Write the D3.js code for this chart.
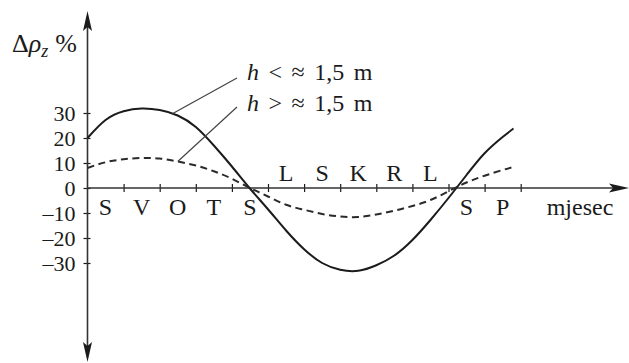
<!DOCTYPE html>
<html>
<head>
<meta charset="utf-8">
<script src="https://cdn.jsdelivr.net/npm/d3@7"></script>
<style>
  html, body { margin: 0; padding: 0; background: #fff; }
  svg { display: block; }
  svg text { font-family: "Liberation Serif", "DejaVu Serif", serif; }
</style>
</head>
<body>
<svg id="chart"></svg>
<script>
// months of the year (Croatian initials), starting at sijecanj
const months = ['S', 'V', 'O', 'T', 'S', 'L', 'S', 'K', 'R', 'L', 'S', 'P'];
// positions along the time axis, in months from the start of the year
const monthX = [0, 0.5, 1, 1.5, 2, 2.5, 3, 3.5, 4, 4.5, 5, 5.5, 6, 6.5, 7, 7.5, 8, 8.5, 9, 9.5, 10, 10.5, 11, 11.5, 11.8];
// change of soil resistivity, %, for shallow (h < ~1.5 m) and deep (h > ~1.5 m) electrodes
const shallow = [20, 27.2, 30.7, 31.8, 31.2, 29, 24.4, 17, 8.6, -0.2, -8.5, -17, -24.5, -30, -32.7, -33.1, -30.9, -27, -20.8, -12.8, -4, 5.2, 13.9, 20.4, 23.8];
const deep = [8, 10.3, 11.5, 12, 11.8, 10.6, 9, 6.7, 3.7, 0, -3.4, -6.7, -8.7, -10.4, -11.4, -11.6, -10.6, -9.1, -7.2, -4.8, -1.3, 2.2, 4.9, 7.2, 8.4];
const yTicks = [30, 20, 10, 0, -10, -20, -30];
const seriesLabels = ['h < ≈ 1,5 m', 'h > ≈ 1,5 m'];

const width = 629, height = 363;
const ink = '#1b1b1b';
const serif = '"Liberation Serif", "DejaVu Serif", serif';

const svg = d3.select('#chart')
  .attr('width', width)
  .attr('height', height);

const x = d3.scaleLinear().domain([0, 15]).range([87.5, 87.5 + 15 * 36.1]);
const y = d3.scaleLinear().domain([-30, 30]).range([263, 113]);

// y axis ticks and labels
const yAxis = svg.append('g')
  .attr('transform', `translate(${x(0)},0)`)
  .call(d3.axisLeft(y).tickValues(yTicks).tickSize(4).tickPadding(8)
    .tickFormat(d => d < 0 ? '–' + Math.abs(d) : d));
yAxis.attr('font-family', serif);
yAxis.select('.domain').remove();
yAxis.selectAll('.tick line').attr('x1', 3).attr('stroke', ink).attr('stroke-width', 1.2);
yAxis.selectAll('.tick text')
  .attr('font-size', 22)
  .attr('fill', ink)
  .attr('dy', '0.33em');

// x axis month ticks
const xAxis = svg.append('g')
  .attr('transform', `translate(0,${y(0)})`)
  .call(d3.axisBottom(x).tickValues(d3.range(1, 13)).tickSize(4).tickFormat(''));
xAxis.select('.domain').remove();
xAxis.selectAll('.tick line').attr('y1', -4).attr('stroke', ink).attr('stroke-width', 1.2);

// axis lines with arrows
svg.append('line')
  .attr('x1', x(0)).attr('x2', 616)
  .attr('y1', y(0)).attr('y2', y(0))
  .attr('stroke', '#333').attr('stroke-width', 1.6);
svg.append('line')
  .attr('x1', x(0)).attr('x2', x(0))
  .attr('y1', 26).attr('y2', 348)
  .attr('stroke', '#333').attr('stroke-width', 1.6);

const arrow = (pts) => svg.append('polygon')
  .attr('points', pts.map(p => p.join(',')).join(' '))
  .attr('fill', ink);
arrow([[x(0), 11], [x(0) - 4.5, 31], [x(0), 27], [x(0) + 4.5, 31]]);
arrow([[x(0), 362], [x(0) - 4.5, 342], [x(0), 346], [x(0) + 4.5, 342]]);
arrow([[629, y(0)], [609, y(0) - 4.5], [613, y(0)], [609, y(0) + 4.5]]);

// month letters: summer months sit above the axis
svg.append('g').selectAll('text')
  .data(months)
  .enter()
  .append('text')
  .attr('x', (d, i) => x(i + 0.5))
  .attr('y', (d, i) => (i >= 5 && i <= 9) ? y(0) - 7 : y(0) + 27)
  .attr('text-anchor', 'middle')
  .attr('font-family', serif)
  .attr('font-size', 24)
  .attr('fill', ink)
  .text(d => d);

svg.append('text')
  .attr('x', 580).attr('y', y(0) + 27)
  .attr('text-anchor', 'middle')
  .attr('font-family', serif)
  .attr('font-size', 24)
  .attr('fill', ink)
  .text('mjesec');

// y axis title
const title = svg.append('text')
  .attr('x', 12).attr('y', 52)
  .attr('font-family', serif)
  .attr('font-size', 26)
  .attr('fill', ink);
title.append('tspan').text('Δ');
title.append('tspan').attr('font-style', 'italic').text('ρ');
title.append('tspan').attr('font-style', 'italic').attr('font-size', 18).attr('dy', 5).text('z');
title.append('tspan').attr('dy', -5).attr('dx', 7).text('%');

// curves
const line = (vals) => d3.line()
  .x((d, i) => x(monthX[i]))
  .y(d => y(d))
  .curve(d3.curveNatural)(vals);

svg.append('path')
  .attr('d', line(shallow))
  .attr('fill', 'none')
  .attr('stroke', ink)
  .attr('stroke-width', 2);

svg.append('path')
  .attr('d', line(deep))
  .attr('fill', 'none')
  .attr('stroke', '#2a2a2a')
  .attr('stroke-width', 2)
  .attr('stroke-dasharray', '7,4.5');

// leader lines and labels
const valueAt = (vals, m) => {
  const i = d3.bisectLeft(monthX, m);
  const t = (m - monthX[i - 1]) / (monthX[i] - monthX[i - 1]);
  return vals[i - 1] + t * (vals[i] - vals[i - 1]);
};

const leaders = [
  { vals: shallow, m: 2.35, tx: 237, ty: 78, ly: 80 },
  { vals: deep, m: 2.5, tx: 237, ty: 107, ly: 111 }
];

leaders.forEach((l, i) => {
  svg.append('line')
    .attr('x1', x(l.m)).attr('y1', y(valueAt(l.vals, l.m)))
    .attr('x2', l.tx).attr('y2', l.ty)
    .attr('stroke', '#444').attr('stroke-width', 1.2);

  const parts = seriesLabels[i].split(' ');
  const t = svg.append('text')
    .attr('x', 247).attr('y', l.ly)
    .attr('font-family', serif)
    .attr('font-size', 24)
    .attr('fill', ink)
    .attr('word-spacing', 3.5);
  t.append('tspan').attr('font-style', 'italic').text(parts[0]);
  t.append('tspan').text(' ' + parts.slice(1).join(' '));
});
</script>
</body>
</html>
